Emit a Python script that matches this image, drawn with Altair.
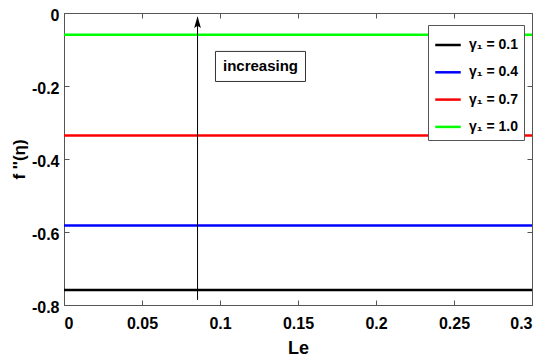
import altair as alt
import pandas as pd

# ---- data ----
series_labels = ["γ₁ = 0.1", "γ₁ = 0.4", "γ₁ = 0.7", "γ₁ = 1.0"]
series_values = [-0.759, -0.5825, -0.3357, -0.0595]
series_colors = ["#000000", "#0000ff", "#ff0000", "#00ff00"]
le_range = [0.0, 0.3]

x_ticks = [0, 0.05, 0.1, 0.15, 0.2, 0.25, 0.3]
y_ticks = [-0.8, -0.6, -0.4, -0.2, 0.0]

arrow_x = [0.0856]
arrow_y0 = [-0.786]
arrow_y1 = [-0.012]

box_x = [0.0971]
box_x2 = [0.1548]
box_y = [-0.1053]
box_y2 = [-0.1876]
box_text = ["increasing"]

FONT = "Liberation Sans"

rows = []
for lab, v in zip(series_labels, series_values):
    for le in le_range:
        rows.append({"Le": le, "f": v, "series": lab})
df = pd.DataFrame(rows)

xscale = alt.Scale(domain=[0, 0.3], nice=False, zero=False)
yscale = alt.Scale(domain=[-0.8, 0], nice=False, zero=False)

ylab_expr = "(datum.value < 0 ? '-' : '') + format(abs(datum.value), '.1~f')"
xlab_expr = "format(datum.value, '.2~f')"

lines = alt.Chart(df).mark_line(strokeWidth=2.5, clip=True).encode(
    x=alt.X("Le:Q", scale=xscale, title="Le",
            axis=alt.Axis(orient="bottom", values=x_ticks, labelExpr=xlab_expr,
                          offset=-5, tickSize=5, domain=False, grid=False,
                          labelPadding=10, titlePadding=8, tickColor="#555")),
    y=alt.Y("f:Q", scale=yscale, title="f ''(η)",
            axis=alt.Axis(orient="left", values=y_ticks, labelExpr=ylab_expr,
                          offset=-5, tickSize=5, domain=False, grid=False,
                          labelPadding=5, labelOffset=2, titlePadding=3,
                          titleFontSize=17, tickColor="#555")),
    color=alt.Color("series:N",
                    scale=alt.Scale(domain=series_labels, range=series_colors),
                    sort=series_labels,
                    legend=alt.Legend(title=None, orient="none", legendX=364, legendY=12,
                                      symbolType="stroke", symbolStrokeWidth=2.5,
                                      symbolSize=650, labelFont=FONT, labelFontSize=14,
                                      labelFontWeight="bold", labelColor="black",
                                      labelOffset=7, strokeColor="#555",
                                      fillColor="white", padding=6, rowPadding=6.3)),
)

frame = alt.Chart(df).mark_line(opacity=0).encode(
    x=alt.X("Le:Q", scale=xscale,
            axis=alt.Axis(orient="top", values=x_ticks, labels=False, title=None,
                          offset=-5, tickSize=5, domain=False, grid=False, tickColor="#555")),
    y=alt.Y("f:Q", scale=yscale,
            axis=alt.Axis(orient="right", values=y_ticks, labels=False, title=None,
                          offset=-5, tickSize=5, domain=False, grid=False, tickColor="#555")),
)

arrow_df = pd.DataFrame({"x": arrow_x, "y0": arrow_y0, "y1": arrow_y1})
arrow_line = alt.Chart(arrow_df).mark_rule(color="black", strokeWidth=1).encode(
    x=alt.X("x:Q", scale=xscale, axis=None),
    y=alt.Y("y0:Q", scale=yscale, axis=None),
    y2="y1:Q",
)
arrow_head = alt.Chart(arrow_df).mark_point(
    shape="M0,-1 L0.55,0.9 L0,0.55 L-0.55,0.9 Z", filled=True, color="black",
    size=150, opacity=1, yOffset=5,
).encode(
    x=alt.X("x:Q", scale=xscale, axis=None),
    y=alt.Y("y1:Q", scale=yscale, axis=None),
)

box_df = pd.DataFrame({"x": box_x, "x2": box_x2, "y": box_y, "y2": box_y2, "t": box_text})
box = alt.Chart(box_df).mark_rect(fill="white", stroke="#333", strokeWidth=1).encode(
    x=alt.X("x:Q", scale=xscale, axis=None), x2="x2:Q",
    y=alt.Y("y:Q", scale=yscale, axis=None), y2="y2:Q",
)
box_label = alt.Chart(box_df).transform_calculate(
    xc="(datum.x + datum.x2) / 2", yc="(datum.y + datum.y2) / 2"
).mark_text(font=FONT, fontSize=15, fontWeight="bold", color="black",
            align="center", baseline="middle").encode(
    x=alt.X("xc:Q", scale=xscale, axis=None),
    y=alt.Y("yc:Q", scale=yscale, axis=None),
    text="t:N",
)

chart = alt.layer(lines, frame, arrow_line, arrow_head, box, box_label).resolve_axis(
    x="independent", y="independent"
).properties(
    width=468, height=292,
    autosize=alt.AutoSizeParams(type="none"),
    padding={"left": 56, "top": 5, "right": 10, "bottom": 56},
    background="white",
).configure_view(
    stroke="#555", strokeWidth=1
).configure_axis(
    labelFont=FONT, labelFontSize=16, labelFontWeight="bold", labelColor="black",
    titleFont=FONT, titleFontSize=18, titleFontWeight="bold", titleColor="black",
)

chart.save("out.html", embed_options={"renderer": "svg", "actions": False})
